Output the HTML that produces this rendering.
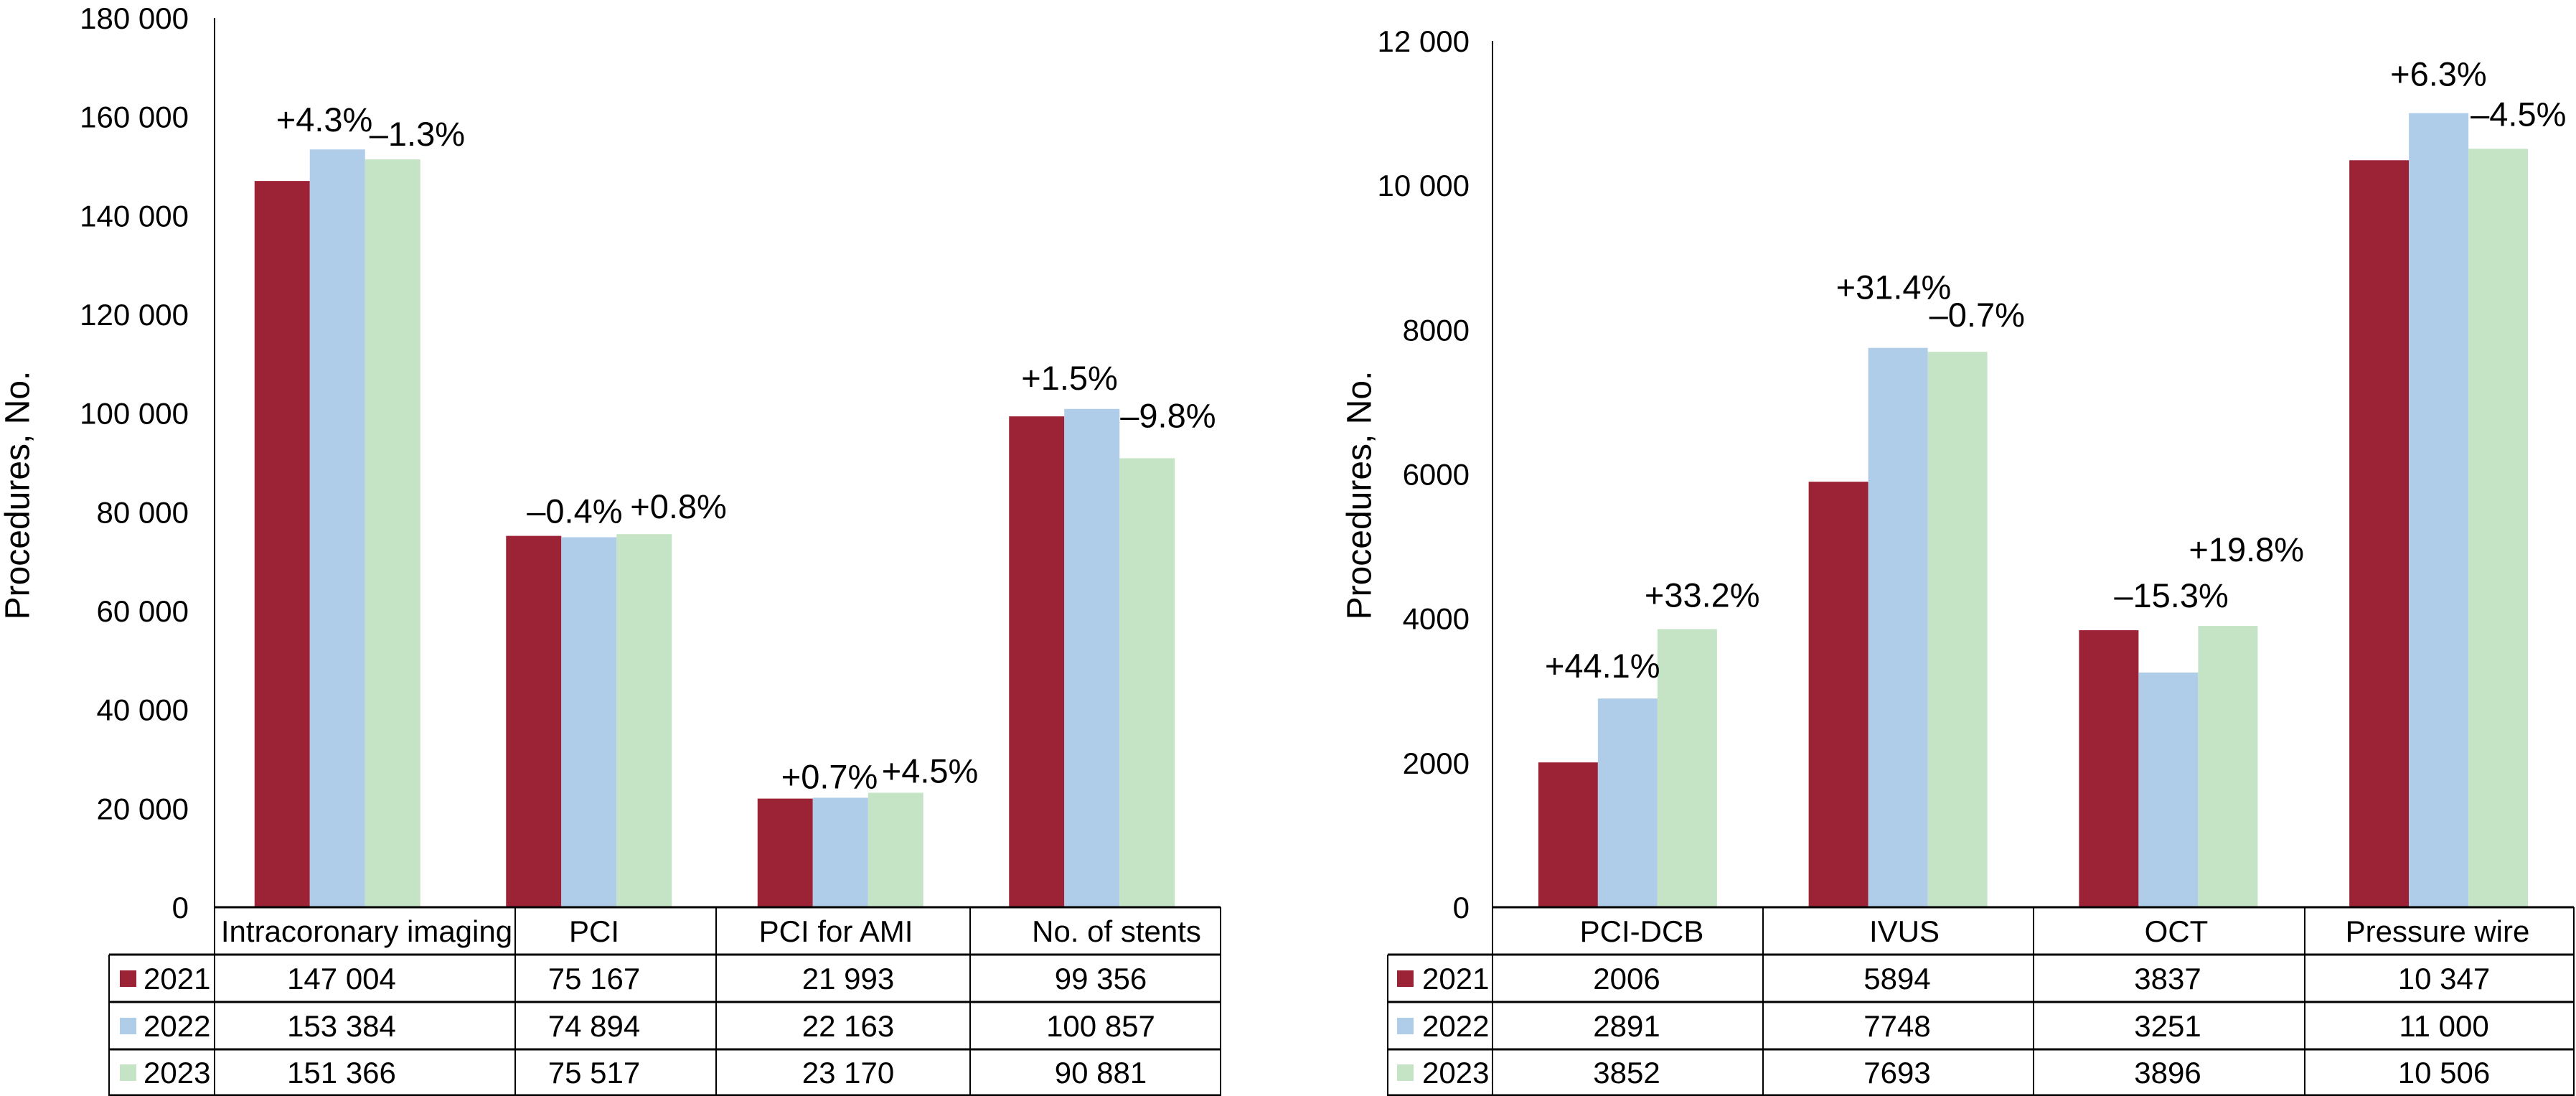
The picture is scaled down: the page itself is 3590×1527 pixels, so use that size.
<!DOCTYPE html>
<html><head><meta charset="utf-8"><style>
html,body{margin:0;padding:0;background:#fff;}
svg{display:block;font-family:"Liberation Sans",Arial,sans-serif;}
</style></head><body>
<svg id="chart" width="3590" height="1527" viewBox="0 0 3590 1527" xmlns="http://www.w3.org/2000/svg"></svg>
<script>
// ---- data ----
const years = ["2021","2022","2023"];
const leftCategories = ["Intracoronary imaging","PCI","PCI for AMI","No. of stents"];
const left2021 = [147004, 75167, 21993, 99356];
const left2022 = [153384, 74894, 22163, 100857];
const left2023 = [151366, 75517, 23170, 90881];
const leftTicks = [0,20000,40000,60000,80000,100000,120000,140000,160000,180000];
const leftChange2022 = ["+4.3%","\u20130.4%","+0.7%","+1.5%"];
const leftChange2023 = ["\u20131.3%","+0.8%","+4.5%","\u20139.8%"];

const rightCategories = ["PCI-DCB","IVUS","OCT","Pressure wire"];
const right2021 = [2006, 5894, 3837, 10347];
const right2022 = [2891, 7748, 3251, 11000];
const right2023 = [3852, 7693, 3896, 10506];
const rightTicks = [0,2000,4000,6000,8000,10000,12000];
const rightChange2022 = ["+44.1%","+31.4%","\u201315.3%","+6.3%"];
const rightChange2023 = ["+33.2%","\u20130.7%","+19.8%","\u20134.5%"];

// ---- layout / style (not data) ----
const colors = ["#9c2236","#afcde9","#c5e4c5"];
const NS = "http://www.w3.org/2000/svg";
const svg = document.getElementById("chart");
function mk(tag, attrs, parent){
  const e = document.createElementNS(NS, tag);
  for (const k in attrs) e.setAttribute(k, attrs[k]);
  (parent||svg).appendChild(e);
  return e;
}
function fmt(v){
  if (v < 10000) return String(v);
  const s = String(v);
  return s.slice(0, s.length-3) + " " + s.slice(s.length-3);
}

const panels = [
  {key:"left", cats:leftCategories, series:[left2021,left2022,left2023], ticks:leftTicks, max:180000,
   ch2:leftChange2022, ch3:leftChange2023,
   axisX:299, plotRight:1701, top:25, base:1264, barW:77, barOff:-4,
   tickRight:263, titleX:25,
   colLines:[299,718,998,1352,1701], headCx:[511,828,1165,1556], valCx:[476,828,1182,1534],
   legendLeft:152, swX:167, yrX:200,
   off2:[[-47,-25],[-48,-20],[-44,-13],[-60,-27]],
   off3:[[6,-19],[19,-22],[19,-14],[1,-43]]},
  {key:"right", cats:rightCategories, series:[right2021,right2022,right2023], ticks:rightTicks, max:12000,
   ch2:rightChange2022, ch3:rightChange2023,
   axisX:2080, plotRight:3587, top:57, base:1264, barW:83, barOff:0,
   tickRight:2048, titleX:1895,
   colLines:[2080,2457,2834,3212,3587], headCx:[2288,2654,3033,3397], valCx:[2267,2644,3021,3406],
   legendLeft:1934, swX:1947, yrX:1982,
   off2:[[-74,-29],[-45,-68],[-34,-91],[-26,-38]],
   off3:[[-18,-31],[2,-35],[-13,-90],[3,-32]]}
];

const rowTop = [1264,1330,1396,1462,1526];

panels.forEach(p => {
  const g = mk("g", {});
  
  
  const y = v => p.base - v / p.max * (p.base - p.top);
  const catW = (p.plotRight - p.axisX) / p.cats.length;
  const cx = i => p.axisX + catW * (i + 0.5) + p.barOff;

  // y axis title
  const t = mk("text", {x:p.titleX, y:690, "font-size":48, "text-anchor":"middle", "dominant-baseline":"central",
    transform:`rotate(-90 ${p.titleX} 690)`, fill:"#000"}, g);
  t.textContent = "Procedures, No.";
  
  

  // ticks
  p.ticks.forEach(v => {
    const tt = mk("text", {x:p.tickRight, y:y(v)+15, "font-size":42, "text-anchor":"end", fill:"#000"}, g);
    tt.textContent = fmt(v);
    
    
  });

  // bars
  p.cats.forEach((c, i) => {
    p.series.forEach((s, j) => {
      const x0 = cx(i) - 1.5 * p.barW + j * p.barW;
      const r = mk("rect", {x:x0, y:y(s[i]), width:p.barW, height:p.base - y(s[i]), fill:colors[j]}, g);
      
      
    });
    // change annotations
    [[1, p.ch2, p.off2], [2, p.ch3, p.off3]].forEach(([j, arr, off]) => {
      const x0 = cx(i) - 1.5 * p.barW + j * p.barW;
      const a = mk("text", {x:x0 + off[i][0], y:y(p.series[j][i]) + off[i][1], "font-size":47, fill:"#000"}, g);
      a.textContent = arr[i];
      
      
    });
  });

  // axis line
  const ax = mk("line", {x1:p.axisX, y1:p.top, x2:p.axisX, y2:p.base, stroke:"#000", "stroke-width":2}, g);
  
  

  // data table
  const tb = mk("g", {}, g);
  
  
  // horizontal lines
  mk("line", {x1:p.axisX, y1:rowTop[0], x2:p.plotRight, y2:rowTop[0], stroke:"#000", "stroke-width":3}, tb);
  for (let k = 1; k < rowTop.length; k++) {
    mk("line", {x1:p.legendLeft, y1:rowTop[k], x2:p.plotRight, y2:rowTop[k], stroke:"#000", "stroke-width":3}, tb);
  }
  // vertical lines
  p.colLines.forEach(x => mk("line", {x1:x, y1:rowTop[0], x2:x, y2:rowTop[4]+1, stroke:"#000", "stroke-width":2}, tb));
  mk("line", {x1:p.legendLeft, y1:rowTop[1], x2:p.legendLeft, y2:rowTop[4]+1, stroke:"#000", "stroke-width":2}, tb);
  // header
  p.cats.forEach((c, i) => {
    const h = mk("text", {x:p.headCx[i], y:(rowTop[0]+rowTop[1])/2 + 15, "font-size":42, "text-anchor":"middle", fill:"#000"}, tb);
    h.textContent = c;
    
    
  });
  // rows
  years.forEach((yr, j) => {
    const cy = (rowTop[j+1] + rowTop[j+2]) / 2;
    const sw = mk("rect", {x:p.swX, y:cy-11, width:23, height:23, fill:colors[j]}, tb);
    
    
    const yt = mk("text", {x:p.yrX, y:cy+15, "font-size":42, fill:"#000"}, tb);
    yt.textContent = yr;
    
    
    p.series[j].forEach((v, i) => {
      const vt = mk("text", {x:p.valCx[i], y:cy+15, "font-size":42, "text-anchor":"middle", fill:"#000"}, tb);
      vt.textContent = fmt(v);
      
      
    });
  });
});
</script>
</body></html>
